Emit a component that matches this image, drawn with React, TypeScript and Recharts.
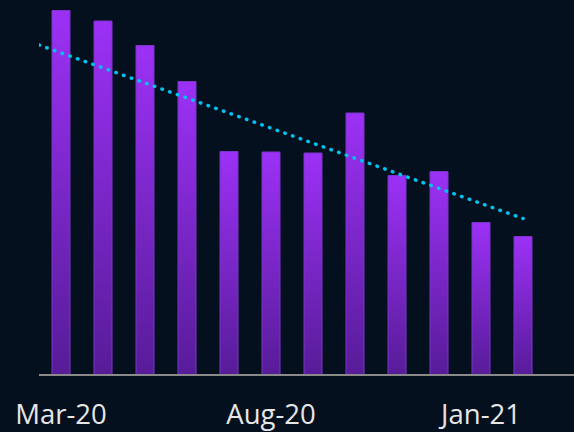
import React from "react";
import { ComposedChart, Bar, Line, XAxis, YAxis } from "recharts";

const months = ["Mar-20", "Apr-20", "May-20", "Jun-20", "Jul-20", "Aug-20", "Sep-20", "Oct-20", "Nov-20", "Dec-20", "Jan-21", "Feb-21"];
const values = [729, 708, 659, 587, 447, 446, 444, 524, 399, 407, 305, 277];
const trendX = [-0.524, 11];
const trendY = [660, 313];
const tickIdx = [0, 5, 10];

const data = months.map((m, i) => ({ x: i, month: m, value: values[i] }));
const trendData = trendX.map((x, i) => ({ x, trend: trendY[i] }));

export default function App() {
  return (
    <div style={{ position: "absolute", left: 0, top: 0, width: 574, height: 432, background: "#05101e" }}>
      <ComposedChart width={574} height={432} data={data} margin={{ top: 0, right: 0, bottom: 0, left: 39 }}>
        <defs>
          <linearGradient id="barGrad" x1="0" y1="0" x2="0" y2="1">
            <stop offset="0%" stopColor="#9c31f6" />
            <stop offset="100%" stopColor="#571c98" />
          </linearGradient>
        </defs>
        <XAxis
          dataKey="x"
          type="number"
          domain={[-0.524, 12.214]}
          ticks={tickIdx}
          tickFormatter={(v) => months[v]}
          allowDataOverflow
          height={57}
          axisLine={{ stroke: "#8a8a8a", strokeWidth: 2 }}
          tickLine={false}
          tick={{ fill: "#e6e6e6", fontSize: 27.5, fontFamily: "Open Sans" }}
          tickMargin={23}
          interval={0}
        />
        <YAxis hide domain={[0, 750]} allowDataOverflow />
        <Bar dataKey="value" barSize={18} fill="url(#barGrad)" stroke="#7a34c8" strokeWidth={1} isAnimationActive={false} />
        <Line
          data={trendData}
          dataKey="trend"
          stroke="#00c3f0"
          strokeWidth={3.5}
          strokeDasharray="0.5 7.66"
          strokeLinecap="round"
          dot={false}
          activeDot={false}
          isAnimationActive={false}
        />
      </ComposedChart>
    </div>
  );
}
